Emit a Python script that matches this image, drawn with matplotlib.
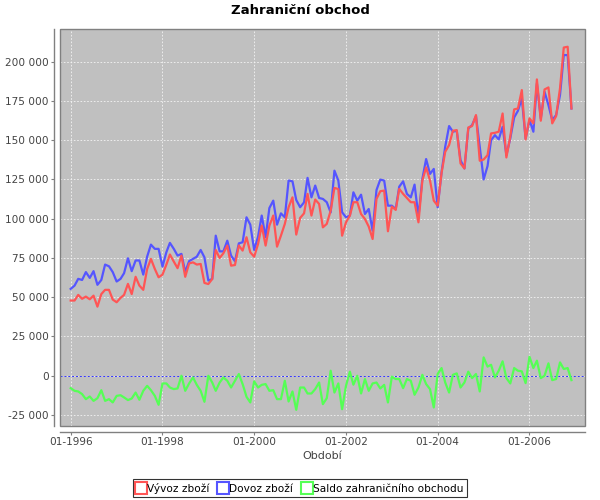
import numpy as np
import pandas as pd
import matplotlib
matplotlib.use("Agg")
import matplotlib.pyplot as plt
import matplotlib.dates as mdates
from matplotlib.ticker import FuncFormatter, MultipleLocator
from matplotlib.lines import Line2D
from matplotlib.patches import Rectangle

# monthly values, thousands (mil. Kc -> shown in units on axis)
vyvoz = [47.9, 47.9, 51.5, 49.0, 50.4, 48.7, 51.0, 44.0, 52.0, 54.7, 54.7, 48.5,
         46.8, 49.6, 51.5, 58.5, 52.0, 63.0, 57.4, 54.7, 68.0, 74.4, 68.0, 62.7,
         64.4, 70.8, 77.2, 72.7, 68.5, 76.5, 63.0, 71.5, 72.2, 70.8, 71.2, 59.1,
         58.4, 61.6, 80.1, 75.0, 78.0, 82.9, 70.1, 70.5, 82.9, 79.7, 88.2, 78.6,
         75.8, 83.9, 95.6, 82.9, 95.6, 102.0, 82.2, 89.2, 96.7, 107.3, 113.6, 89.9,
         100.5, 103.4, 115.8, 102.0, 112.2, 109.4, 94.5, 96.7, 105.1, 119.6, 118.9, 89.2,
         97.7, 102.0, 110.5, 110.5, 103.0, 99.8, 95.0, 87.1, 112.6, 117.5, 117.9, 92.0,
         107.7, 105.6, 119.0, 115.8, 113.2, 110.5, 110.5, 97.7, 124.3, 132.7, 124.3, 111.5,
         108.3, 129.2, 142.6, 146.9, 156.0, 156.4, 135.2, 132.0, 158.1, 159.0, 166.0, 136.9,
         137.7, 140.5, 154.3, 154.7, 155.4, 167.0, 139.0, 152.2, 169.6, 170.2, 181.9, 150.5,
         163.9, 160.7, 188.7, 162.4, 182.3, 183.6, 160.7, 165.3, 183.0, 209.0, 209.5, 170.2]

dovoz = [55.3, 57.4, 61.7, 61.0, 66.0, 62.3, 66.6, 57.9, 61.0, 70.8, 69.7, 66.0,
         60.0, 61.7, 65.3, 74.8, 66.6, 73.4, 73.4, 64.4, 75.9, 83.5, 80.8, 80.8,
         69.5, 78.7, 84.6, 80.8, 76.5, 77.6, 66.0, 73.0, 74.4, 75.8, 80.1, 75.4,
         60.6, 61.6, 89.2, 79.2, 79.2, 86.0, 76.5, 72.9, 84.3, 85.0, 100.9, 96.2,
         80.1, 88.6, 102.0, 88.2, 106.8, 111.5, 96.2, 103.4, 100.9, 124.3, 123.8, 111.9,
         107.3, 110.4, 126.0, 113.6, 121.1, 113.2, 112.6, 110.5, 104.0, 130.6, 124.3, 104.1,
         100.9, 102.0, 116.8, 111.5, 115.3, 103.0, 106.2, 92.4, 118.3, 124.9, 124.3, 108.3,
         108.3, 106.2, 120.4, 123.8, 115.8, 113.6, 121.7, 101.3, 125.3, 138.0, 128.5, 131.7,
         107.3, 129.6, 145.8, 159.0, 155.4, 156.0, 137.3, 132.0, 157.5, 159.6, 165.3, 145.8,
         125.0, 133.5, 150.0, 153.2, 150.5, 158.5, 140.5, 151.1, 164.5, 168.7, 176.6, 151.1,
         162.8, 155.4, 186.1, 163.9, 180.8, 172.3, 162.8, 166.0, 178.7, 204.2, 204.2, 170.2]

saldo = [-7.9, -9.6, -10.0, -11.7, -14.9, -13.2, -16.0, -14.3, -9.2, -16.0, -14.9, -17.0,
         -12.8, -12.4, -13.8, -15.5, -14.5, -10.7, -15.3, -9.6, -6.4, -9.2, -12.8, -18.5,
         -4.9, -4.9, -7.5, -8.5, -8.1, 0.0, -9.6, -4.9, -1.1, -5.8, -9.6, -16.6,
         0.0, -4.3, -9.6, -4.3, -1.1, -3.2, -7.5, -3.2, 1.1, -5.3, -13.4, -17.0,
         -3.6, -7.5, -5.8, -5.3, -9.6, -9.2, -14.9, -14.9, -3.2, -16.4, -10.0, -21.7,
         -7.5, -7.5, -11.3, -11.3, -8.5, -4.3, -18.1, -14.3, 3.2, -10.7, -4.9, -21.3,
         -6.4, 2.6, -5.7, 0.0, -11.3, -2.1, -9.6, -4.9, -4.3, -8.1, -5.8, -17.0,
         -0.6, -2.1, -2.1, -7.9, -2.1, -3.2, -12.1, -7.5, 0.6, -5.3, -8.5, -20.2,
         1.1, 4.9, -4.3, -10.7, 0.6, 1.5, -7.5, -4.3, 2.6, -1.5, 1.1, -10.0,
         11.7, 5.8, 7.0, -1.1, 3.2, 9.2, -1.5, -4.9, 4.9, 3.2, 2.8, -4.7,
         12.1, 4.9, 9.6, -1.5, 0.0, 7.9, -2.8, -2.1, 8.5, 4.3, 4.9, -2.8]

obdobi = pd.date_range("1996-01-01", periods=len(vyvoz), freq="MS")
nazvy = ["Vývoz zboží", "Dovoz zboží", "Saldo zahraničního obchodu"]
barvy = ["#FF5555", "#5555FF", "#55FF55"]

plt.rcParams['font.family'] = ['DejaVu Sans']

fig = plt.figure(figsize=(6, 5), dpi=100)
ax = fig.add_axes([0.1, 0.148, 0.875, 0.794])
ax.set_facecolor("#C0C0C0")

serie = [np.array(vyvoz) * 1000, np.array(dovoz) * 1000, np.array(saldo) * 1000]
# JFreeChart draws series in reverse order -> first series on top
for k in range(3):
    ax.plot(obdobi, serie[k], color=barvy[k], lw=1.6, zorder=5 - k)

ax.axhline(0, color="#3333ff", lw=0.7, ls=(0, (2, 2)), zorder=2)

ax.set_xlim(pd.Timestamp("1995-10-08"), pd.Timestamp("2007-03-19"))
ax.set_ylim(-32000, 220800)
ax.yaxis.set_major_locator(MultipleLocator(25000))
ax.yaxis.set_major_formatter(FuncFormatter(lambda v, p: f"{v:,.0f}".replace(",", " ")))
ax.xaxis.set_major_locator(mdates.YearLocator(2, month=1, day=1))
ax.xaxis.set_major_formatter(mdates.DateFormatter("%m-%Y"))

ax.grid(True, color="#f4f4f4", lw=0.6, ls=(0, (2, 2)), zorder=1)
ax.set_axisbelow(True)

for s in ["top", "right"]:
    ax.spines[s].set_visible(False)
for s in ["left", "bottom"]:
    ax.spines[s].set_position(("outward", 4))
    ax.spines[s].set_color("#808080")
    ax.spines[s].set_linewidth(1)
ax.add_patch(Rectangle((0, 0), 1, 1, transform=ax.transAxes, fill=False,
                       ec="#808080", lw=1, zorder=10, clip_on=False))

ax.tick_params(direction="out", length=2, color="#808080", labelcolor="#444444",
               labelsize=7.6, pad=2)
ax.set_xlabel("Období", fontsize=8, color="#444444", labelpad=3)
fig.text(0.5, 0.978, "Zahraniční obchod", fontsize=9.5, fontweight="bold",
         ha="center", va="center")

handles = [Line2D([], [], ls="none", marker="s", ms=8, mfc="none", mec=c, mew=1.5)
           for c in barvy]
leg = fig.legend(handles, nazvy, loc="center", bbox_to_anchor=(0.5, 0.024), ncol=3,
                 fontsize=7.6, frameon=True, fancybox=False, handlelength=0.8,
                 handletextpad=0.2, columnspacing=0.9, borderpad=0.3,
                 borderaxespad=0)
leg.get_frame().set_edgecolor("black")
leg.get_frame().set_linewidth(0.8)

plt.savefig("out.png", dpi=100)
